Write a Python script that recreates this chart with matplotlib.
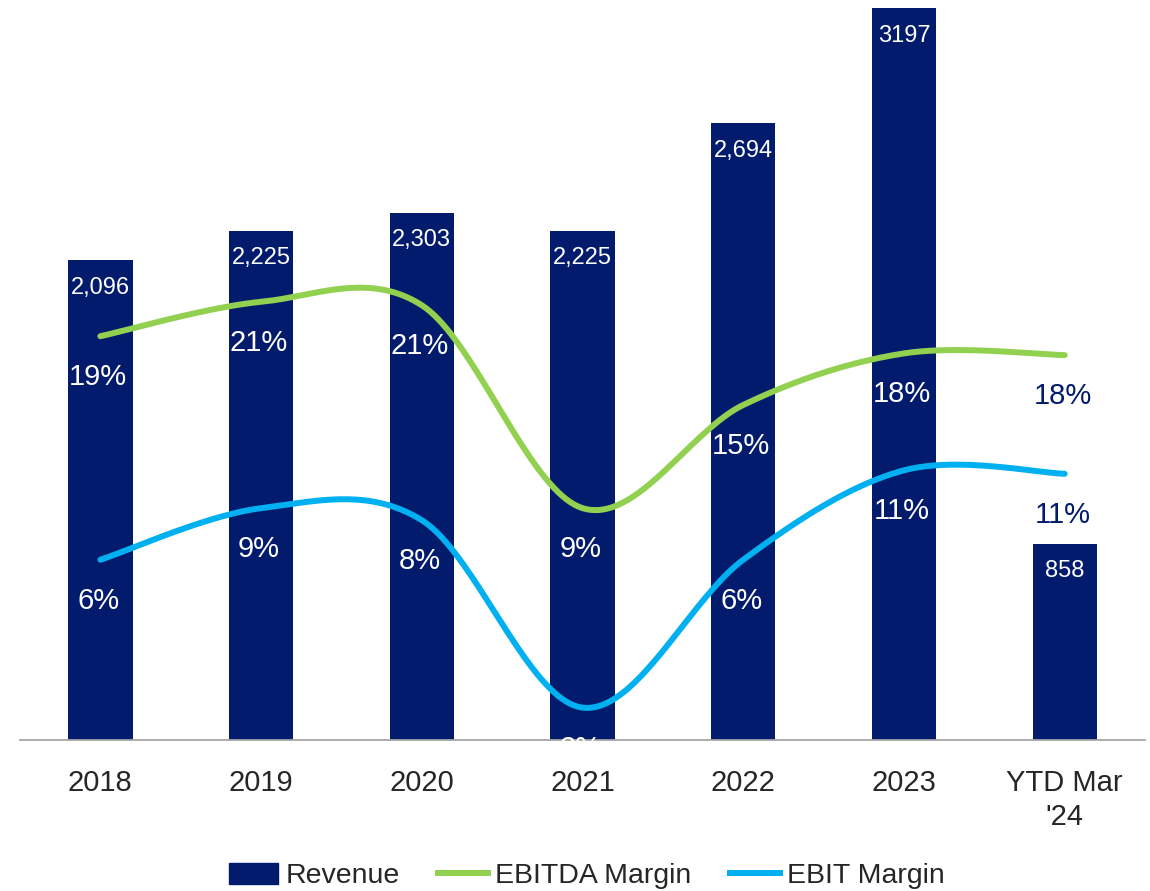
import numpy as np
import matplotlib
matplotlib.use("Agg")
import matplotlib.pyplot as plt
from matplotlib.lines import Line2D
from matplotlib.patches import Patch

plt.rcParams['font.family'] = ['Liberation Sans', 'DejaVu Sans']

categories = ["2018", "2019", "2020", "2021", "2022", "2023", "YTD Mar\n'24"]
revenue = [2096, 2225, 2303, 2225, 2694, 3197, 858]
revenue_labels = ["2,096", "2,225", "2,303", "2,225", "2,694", "3197", "858"]
ebitda_margin = [19, 21, 20.8, 9, 15, 18, 17.9]
ebitda_labels = ["19%", "21%", "21%", "9%", "15%", "18%", "18%"]
ebit_margin = [6, 9.0, 8.3, -2.6, 6, 11.2, 11]
ebit_labels = ["6%", "9%", "8%", "2%", "6%", "11%", "11%"]

NAVY = "#021B6D"
GREEN = "#92D050"
CYAN = "#00B0F0"
TEXT = "#262626"


def excel_smooth(x, y, n=40):
    x = np.asarray(x, float)
    y = np.asarray(y, float)
    P = np.column_stack([x, y])
    out = []
    for i in range(len(P) - 1):
        p0 = P[i - 1] if i > 0 else P[i]
        p1 = P[i]
        p2 = P[i + 1]
        p3 = P[i + 2] if i + 2 < len(P) else P[i + 1]
        c1 = p1 + (p2 - p0) / 6.0
        c2 = p2 - (p3 - p1) / 6.0
        t = np.linspace(0, 1, n)[:, None]
        seg = ((1 - t) ** 3) * p1 + 3 * ((1 - t) ** 2) * t * c1 + 3 * (1 - t) * t ** 2 * c2 + t ** 3 * p2
        out.append(seg if i == 0 else seg[1:])
    s = np.vstack(out)
    return s[:, 0], s[:, 1]


fig = plt.figure(figsize=(11.5, 8.91), dpi=100)
ax = fig.add_axes([0.0174, 0.1695, 0.9783, 0.8305])
x = np.arange(len(categories))

ax.bar(x, revenue, width=0.4, color=NAVY, zorder=2)
ax.set_ylim(0, 3232)
ax.set_xlim(-0.5, 6.5)
for xi, v, lab in zip(x, revenue, revenue_labels):
    ax.annotate(lab, (xi, v), xytext=(0, -20), textcoords="offset points",
                ha="center", va="center", color="white", fontsize=17, zorder=5)

for s in ["top", "right", "left"]:
    ax.spines[s].set_visible(False)
ax.spines["bottom"].set_color("#A6A6A6")
ax.spines["bottom"].set_linewidth(1.3)
ax.set_yticks([])
ax.set_xticks(x)
ax.set_xticklabels(categories, fontsize=21, color=TEXT, linespacing=1.25)
ax.tick_params(axis="x", length=0, pad=21)

ax2 = ax.twinx()
ax2.set_ylim(-4.48, 38.55)
ax2.set_yticks([])
for s in ["top", "right", "left", "bottom"]:
    ax2.spines[s].set_visible(False)

sx, sy = excel_smooth(x, ebitda_margin)
ax2.plot(sx, sy, color=GREEN, lw=4.3, solid_capstyle="round", zorder=3)
sx, sy = excel_smooth(x, ebit_margin)
ax2.plot(sx, sy, color=CYAN, lw=4.3, solid_capstyle="round", zorder=3)

for series, labels in [(ebitda_margin, ebitda_labels), (ebit_margin, ebit_labels)]:
    for i, (xi, v, lab) in enumerate(zip(x, series, labels)):
        col = "white" if i < 6 else NAVY
        t = ax2.annotate(lab, (xi, v), xytext=(-1.5, -29.5), textcoords="offset points",
                         ha="center", va="center", color=col, fontsize=21, zorder=5,
                         annotation_clip=False)
        t.set_clip_on(True)

handles = [Patch(facecolor=NAVY, edgecolor=NAVY),
           Line2D([0], [0], color=GREEN, lw=4.3),
           Line2D([0], [0], color=CYAN, lw=4.3)]
fig.legend(handles, ["Revenue", "EBITDA Margin", "EBIT Margin"], loc="center",
           bbox_to_anchor=(0.51, 0.017), ncol=3, frameon=False, fontsize=20.5,
           handlelength=1.75, handleheight=0.75, handletextpad=0.25, columnspacing=1.35,
           labelcolor=TEXT)

fig.savefig("out.png", dpi=100)
